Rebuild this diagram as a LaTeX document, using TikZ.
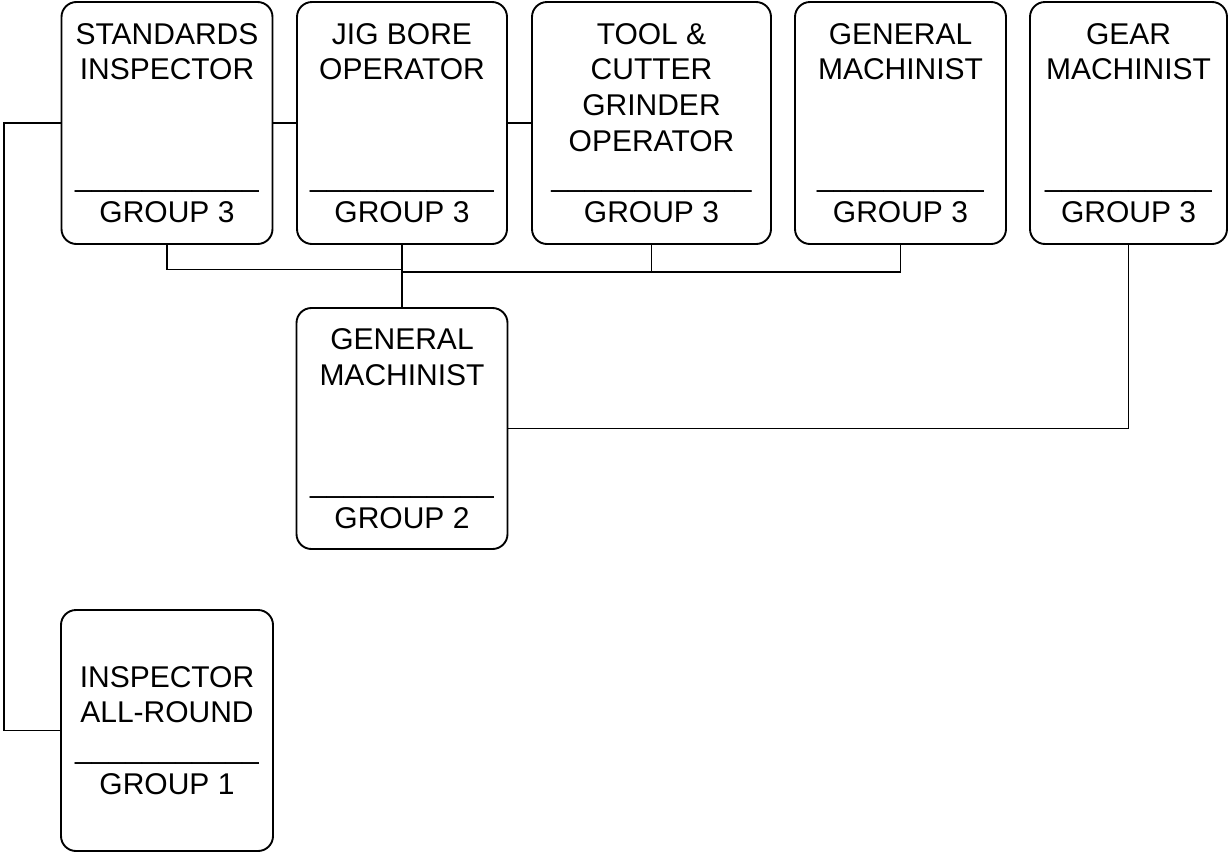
\documentclass[tikz,border=0pt]{standalone}
\usepackage{fontspec}
\setmainfont{Liberation Sans}
\begin{document}
\begin{tikzpicture}[x=1pt,y=-1pt,
  jobbox/.style={draw, line width=1.9pt, rounded corners=15pt, inner sep=0pt,
    minimum height=242pt, align=center,
    font=\fontsize{30}{35.7}\selectfont},
  link/.style={line width=1.9pt}]
\useasboundingbox (0,0) rectangle (1228,852);

% top row: group 3 positions
\node[jobbox, minimum width=211pt] (si) at (167,123)
  {STANDARDS\\INSPECTOR\\~\\~\\\_\_\_\_\_\_\_\_\_\_\_\\GROUP 3};
\node[jobbox, minimum width=210pt] (jb) at (402,123)
  {JIG BORE\\OPERATOR\\~\\~\\\_\_\_\_\_\_\_\_\_\_\_\\GROUP 3};
\node[jobbox, minimum width=239pt] (tc) at (651.5,123)
  {TOOL \&\\CUTTER\\GRINDER\\OPERATOR\\\_\_\_\_\_\_\_\_\_\_\_\_\\GROUP 3};
\node[jobbox, minimum width=211pt] (gm) at (900.5,123)
  {GENERAL\\MACHINIST\\~\\~\\\_\_\_\_\_\_\_\_\_\_\\GROUP 3};
\node[jobbox, minimum width=197pt] (gr) at (1128.5,123)
  {GEAR\\MACHINIST\\~\\~\\\_\_\_\_\_\_\_\_\_\_\\GROUP 3};

% group 2 and group 1
\node[jobbox, minimum width=211pt, minimum height=241pt] (gm2) at (402,428.5)
  {GENERAL\\MACHINIST\\~\\~\\\_\_\_\_\_\_\_\_\_\_\_\\GROUP 2};
\node[jobbox, minimum width=212pt, minimum height=241pt] (ia) at (167,730.5)
  {INSPECTOR\\ALL-ROUND\\\_\_\_\_\_\_\_\_\_\_\_\\GROUP 1};

% routing helpers
\coordinate (rail) at (4,0);
\coordinate (busA) at (0,269.5);
\coordinate (busB) at (0,272);

% side links along the top row
\draw[link] (si.east) -- (jb.west);
\draw[link] (jb.east) -- (tc.west);

% outer loop down to the all-round inspector
\draw[link] (si.west) -- (si.west -| rail) |- (ia.west);

% bus below the top row feeding group 2
\draw[link] (si.south) -- (si.south |- busA) -- (jb.south |- busA);
\draw[link] (gm.south) -- (gm.south |- busB) -- (jb.south |- busB);
\draw[link] (tc.south) -- (tc.south |- busB);
\draw[link] (jb.south) -- (gm2.north);

% gear machinist to group 2
\draw[link] (gr.south) |- (gm2.east);
\end{tikzpicture}
\end{document}
